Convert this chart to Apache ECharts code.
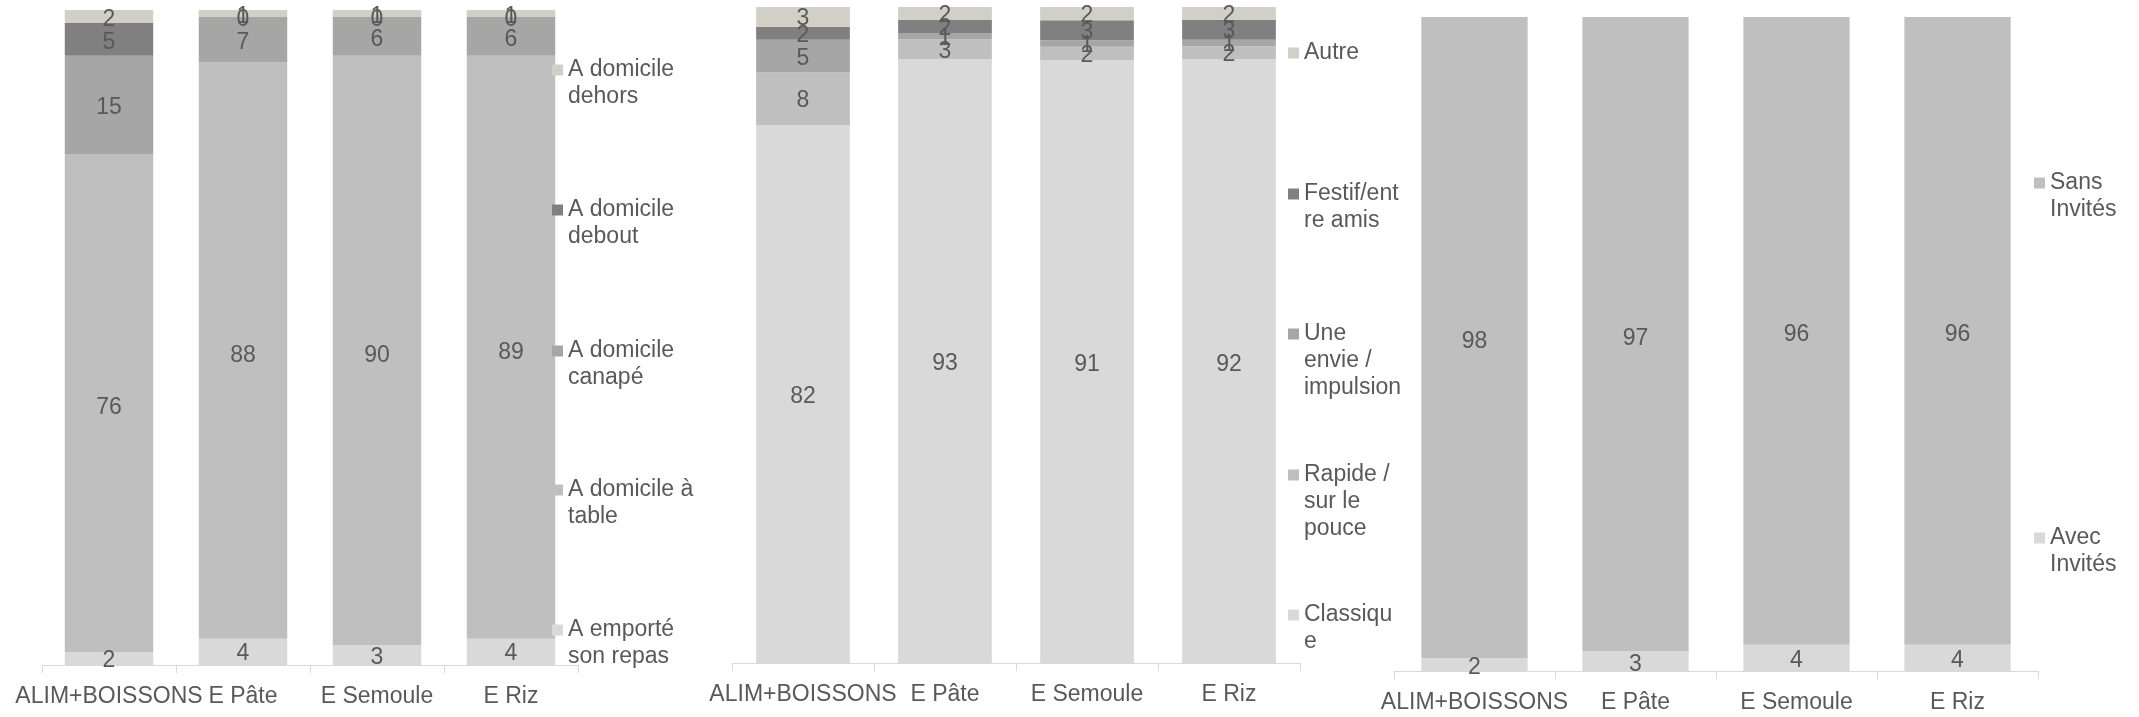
<!DOCTYPE html>
<html><head><meta charset="utf-8">
<script src="https://cdn.jsdelivr.net/npm/echarts@6/dist/echarts.min.js"></script>
<style>html,body{margin:0;padding:0;background:#fff}#c{width:2139px;height:717px}</style>
</head><body><div id="c"></div>
<script>
// ---------- DATA ----------
const categories = ['ALIM+BOISSONS', 'E Pâte', 'E Semoule', 'E Riz'];

// Chart 1 : lieu (bottom -> top)
const lieuSeries = ['A emporté son repas', 'A domicile à table', 'A domicile canapé', 'A domicile debout', 'A domicile dehors'];
const lieuLegendText = ['A emporté\nson repas', 'A domicile à\ntable', 'A domicile\ncanapé', 'A domicile\ndebout', 'A domicile\ndehors'];
const lieuEmporte = [2, 4, 3, 4];
const lieuTable   = [76, 88, 90, 89];
const lieuCanape  = [15, 7, 6, 6];
const lieuDebout  = [5, 0, 0, 0];
const lieuDehors  = [2, 1, 1, 1];

// Chart 2 : motif (bottom -> top)
const motifSeries = ['Classique', 'Rapide / sur le pouce', 'Une envie / impulsion', 'Festif/entre amis', 'Autre'];
const motifLegendText = ['Classiqu\ne', 'Rapide /\nsur le\npouce', 'Une\nenvie /\nimpulsion', 'Festif/ent\nre amis', 'Autre'];
const motifClassique = [82, 93, 91, 92];
const motifRapide    = [8, 3, 2, 2];
const motifEnvie     = [5, 1, 1, 1];
const motifFestif    = [2, 2, 3, 3];
const motifAutre     = [3, 2, 2, 2];

// Chart 3 : invités (bottom -> top)
const invitesSeries = ['Avec Invités', 'Sans Invités'];
const invitesLegendText = ['Avec\nInvités', 'Sans\nInvités'];
const invitesAvec = [2, 3, 4, 4];
const invitesSans = [98, 97, 96, 96];

// ---------- STYLE ----------
const FONT = '"Liberation Sans", Arial, sans-serif';
const TXT = '#595959';
const LH = 27;
const colors5 = ['#d9d9d9', '#bfbfbf', '#a6a6a6', '#808080', '#d0d0c6'];
const colors2 = ['#d9d9d9', '#bfbfbf'];

function stackSeries(names, arrays, colors, g, offsets) {
  const totals = categories.map((_, i) => arrays.reduce((s, a) => s + a[i], 0));
  return names.map((nm, k) => ({
    name: nm, type: 'bar', stack: 's' + g, xAxisIndex: g, yAxisIndex: g,
    barCategoryGap: '34%',
    data: arrays[k].map((v, i) => v / totals[i] * 100),
    itemStyle: { color: colors[k] },
    label: {
      show: true, position: 'inside', color: TXT, fontSize: 23, fontFamily: FONT,
      textBorderWidth: 0, offset: [0, offsets[k]],
      formatter: p => String(arrays[k][p.dataIndex])
    },
    emphasis: { disabled: true }
  }));
}

function legendFor(name, text, x, cy) {
  const n = text.split('\n').length;
  const display = '\n'.repeat(n - 1) + text;
  const H = (2 * n - 1) * LH;
  return {
    data: [name], orient: 'vertical', left: x, top: cy - H / 2, padding: 0,
    itemWidth: 11, itemHeight: 11, itemGap: 0, icon: 'rect', selectedMode: false,
    formatter: () => display,
    textStyle: { color: TXT, fontSize: 23, lineHeight: LH, fontFamily: FONT }
  };
}

const lieuArrays = [lieuEmporte, lieuTable, lieuCanape, lieuDebout, lieuDehors];
const motifArrays = [motifClassique, motifRapide, motifEnvie, motifFestif, motifAutre];
const invitesArrays = [invitesAvec, invitesSans];

const lieuLegendY = [630, 490, 351, 210, 70];
const motifLegendY = [615, 475, 334, 194, 53];
const invitesLegendY = [538, 183];

const legends = [];
lieuSeries.forEach((s, k) => legends.push(legendFor(s, lieuLegendText[k], 552, lieuLegendY[k])));
motifSeries.forEach((s, k) => legends.push(legendFor(s, motifLegendText[k], 1288, motifLegendY[k])));
invitesSeries.forEach((s, k) => legends.push(legendFor(s, invitesLegendText[k], 2034, invitesLegendY[k])));

const grids = [
  { left: 42, width: 536, top: 10, height: 655 },
  { left: 732, width: 568, top: 7, height: 656 },
  { left: 1394, width: 644, top: 17, height: 654 }
];

const option = {
  animation: false,
  backgroundColor: '#ffffff',
  grid: grids,
  legend: legends,
  xAxis: [0, 1, 2].map(g => ({
    type: 'category', gridIndex: g, data: categories,
    axisLine: { show: true, lineStyle: { color: '#d9d9d9', width: 1 } },
    axisTick: { show: true, length: 8, lineStyle: { color: '#d9d9d9' } },
    axisLabel: { interval: 0, color: TXT, fontSize: 23, fontFamily: FONT, margin: 20 },
    splitLine: { show: false }
  })),
  yAxis: [0, 1, 2].map(g => ({ type: 'value', gridIndex: g, min: 0, max: 100, show: false })),
  series: [
    ...stackSeries(lieuSeries, lieuArrays, colors5, 0, [2, 5, 3, 3, 3]),
    ...stackSeries(motifSeries, motifArrays, colors5, 1, [3, 2, 2, 2, 2]),
    ...stackSeries(invitesSeries, invitesArrays, colors2, 2, [3, 4])
  ]
};

const chart = echarts.init(document.getElementById('c'), null, { renderer: 'canvas' });
chart.setOption(option);
</script>
</body></html>
